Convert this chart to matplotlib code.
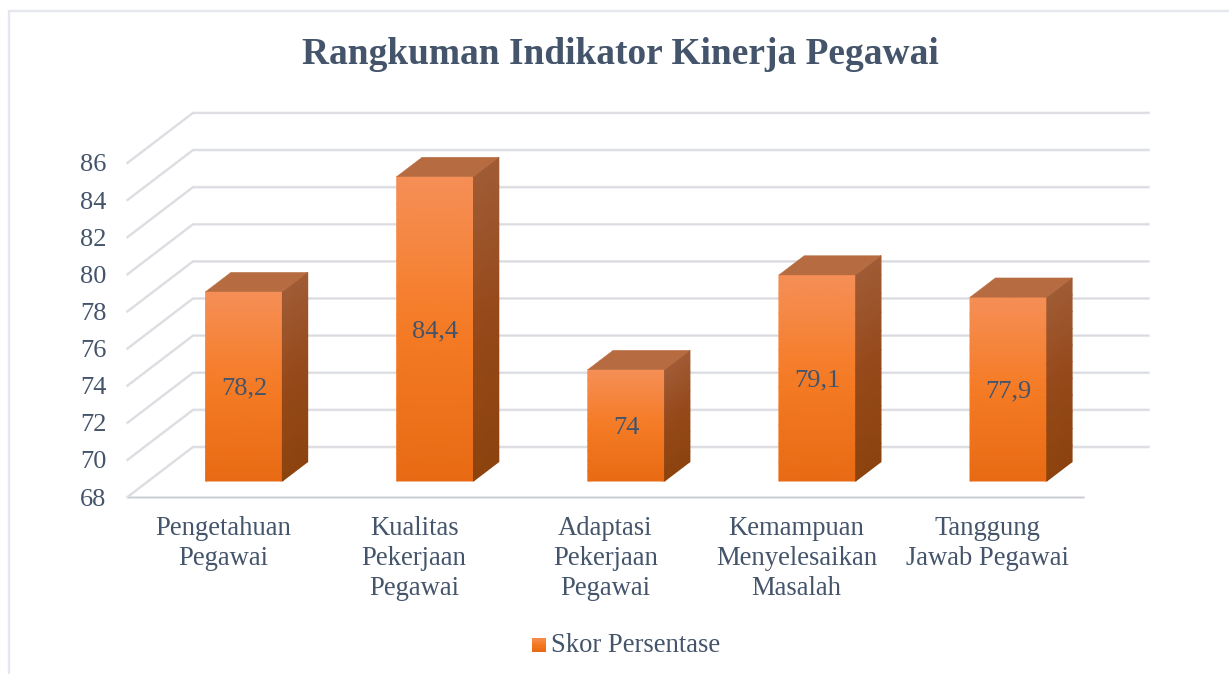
import numpy as np
import matplotlib
matplotlib.use("Agg")
import matplotlib.pyplot as plt
from matplotlib.colors import LinearSegmentedColormap
from matplotlib.lines import Line2D
from matplotlib.patches import Polygon, Rectangle
from matplotlib.legend_handler import HandlerBase

categories = ["Pengetahuan\nPegawai", "Kualitas\nPekerjaan\nPegawai", "Adaptasi\nPekerjaan\nPegawai",
              "Kemampuan\nMenyelesaikan\nMasalah", "Tanggung\nJawab Pegawai"]
values = [78.2, 84.4, 74.0, 79.1, 77.9]
value_labels = ["78,2", "84,4", "74", "79,1", "77,9"]
y_ticks = [68, 70, 72, 74, 76, 78, 80, 82, 84, 86]
title = "Rangkuman Indikator Kinerja Pegawai"
series_name = "Skor Persentase"

W, H = 1229, 674
TEXT = "#44546A"
plt.rcParams["font.family"] = ["Liberation Serif", "DejaVu Serif"]

fig = plt.figure(figsize=(W / 100, H / 100), dpi=100, facecolor="white")
L, R, B, T = 127.5, 1083.0, 497.0, 162.9
ax = fig.add_axes([L / W, 1 - B / H, (R - L) / W, (B - T) / H])
ax.set_xlim(-0.5, 4.5)
ax.set_ylim(68, 86)
ax.set_facecolor("none")
for s in ax.spines.values():
    s.set_visible(False)

# depth projection: d=0 front of the floor, d=1 back wall
px_x = (R - L) / 5
px_y = (B - T) / 18
kx = 65.5 / px_x
ky = 50.0 / px_y


def proj(x, v, d):
    return x + d * kx, v + d * ky


x0, x1 = -0.5, 4.5
grid_c = "#E3E5E9"
grid_dark = "#D6D8DD"
for v in y_ticks:
    a = proj(x0, v, 0)
    b = proj(x0, v, 1)
    c = proj(x1, v, 1)
    ax.plot([a[0], b[0], c[0]], [a[1], b[1], c[1]], color=grid_c, lw=1.9,
            solid_joinstyle="miter", clip_on=False, zorder=1)
    ax.plot([a[0], b[0], c[0]], [a[1], b[1], c[1]], color=grid_dark, lw=0.6,
            clip_on=False, zorder=1.1)
ax.plot([x0, x1], [68, 68], color=grid_c, lw=2.0, clip_on=False, zorder=1)
ax.plot([x0, x1], [68, 68], color="#C8CBD1", lw=0.7, clip_on=False, zorder=1.1)

front_cm = LinearSegmentedColormap.from_list("f", ["#E86A14", "#F57B24", "#F58F57"])
side_cm = LinearSegmentedColormap.from_list("s", ["#8C430E", "#96491A", "#A05C36"])
d0, d1 = 16 / 50, 35.3 / 50
hw = 38.4 / px_x
t = np.linspace(0, 1, 12)
label_drop = 2.5 / px_y

for i, v in enumerate(values):
    xa, xb = i - hw, i + hw
    px = [proj(xa, 68, d0)[0], proj(xb, 68, d0)[0]]
    ya = proj(0, 68, d0)[1]
    yb = proj(0, v, d0)[1]
    Y = np.tile((ya + (yb - ya) * t)[:, None], (1, 2))
    X = np.tile(np.array(px)[None, :], (len(t), 1))
    C = np.tile(t[:, None], (1, 2))
    ax.pcolormesh(X, Y, C, shading="gouraud", cmap=front_cm, vmin=0, vmax=1, zorder=3, clip_on=False)

    sx = np.array([proj(xb, 68, d0)[0], proj(xb, 68, d1)[0]])
    XS = np.tile(sx[None, :], (len(t), 1))
    lo = np.array([proj(xb, 68, d0)[1], proj(xb, 68, d1)[1]])
    hi = np.array([proj(xb, v, d0)[1], proj(xb, v, d1)[1]])
    YS = lo[None, :] + t[:, None] * (hi - lo)[None, :]
    ax.pcolormesh(XS, YS, C, shading="gouraud", cmap=side_cm, vmin=0, vmax=1, zorder=3, clip_on=False)

    top = [proj(xa, v, d0), proj(xb, v, d0), proj(xb, v, d1), proj(xa, v, d1)]
    ax.add_patch(Polygon(top, closed=True, facecolor="#B66C40", edgecolor="#B66C40", lw=0.3,
                         zorder=3, clip_on=False))
    cx, cy = proj(i, (68 + v) / 2, d0)
    ax.text(cx, cy - label_drop, value_labels[i], ha="center", va="center", fontsize=19, color=TEXT, zorder=5)

ax.set_xticks(range(5))
ax.set_xticklabels(categories, fontsize=19.2, color=TEXT, linespacing=1.26)
ax.set_yticks(y_ticks)
ax.set_yticklabels([str(v) for v in y_ticks], fontsize=19, color=TEXT)
ax.tick_params(axis="x", length=0, pad=14)
ax.tick_params(axis="y", length=0, pad=15)

fig.text(620.5 / W, 1 - 54 / H, title, ha="center", va="center", fontsize=26.9,
         fontweight="bold", color=TEXT)


class GradHandler(HandlerBase):
    def create_artists(self, legend, orig, xd, yd, w, h, fs, trans):
        stops = np.linspace(0, 1, 7)[:-1]
        side = 14 * 72 / 100
        out = []
        for s in stops:
            out.append(Rectangle((0, s * side - 0.2), side, side / 6 + 0.2, facecolor=front_cm(s),
                                 edgecolor="none", transform=trans))
        return out


leg = ax.legend([Rectangle((0, 0), 1, 1)], [series_name], handler_map={Rectangle: GradHandler()},
                loc="center left", bbox_to_anchor=(532 / W, 1 - 645.5 / H), bbox_transform=fig.transFigure,
                frameon=False, fontsize=19.2, handlelength=0.52, handletextpad=0.2, borderpad=0, borderaxespad=0,
                labelcolor=TEXT)

fig.add_artist(Line2D([9 / W, 9 / W, 1], [0, 1 - 11 / H, 1 - 11 / H], color="#E4E7EE", lw=1.7,
                      solid_joinstyle="miter", transform=fig.transFigure))

fig.savefig("out.png", dpi=100, facecolor="white")
